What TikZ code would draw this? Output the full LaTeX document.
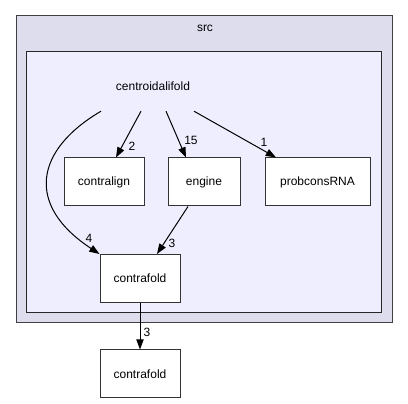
\documentclass[tikz,border=0pt]{standalone}
\usepackage{fontspec}
\setmainfont{Liberation Sans}
\usetikzlibrary{arrows.meta}
\tikzstyle{dirbox} = [draw=black!80, fill=white, line width=1pt,
    minimum height=48pt, inner sep=0pt]
\tikzstyle{num} = [inner sep=0pt]
\tikzset{>={Triangle[length=3.6mm,width=2.6mm]}}
\definecolor{outerbg}{RGB}{221,221,238}
\definecolor{innerbg}{RGB}{238,238,255}

\begin{document}
\begin{tikzpicture}[x=1pt, y=-1pt, font=\fontsize{12}{14}\selectfont]
\useasboundingbox (0,0) rectangle (408,404);
    %clusters
    \draw[fill=outerbg, draw=black!75, line width=1pt] (16,16) rectangle (392,323);
    \node (src) at (205,28) {src};
    \draw[fill=innerbg, draw=black!85, line width=1pt] (26,52) rectangle (381,313);
    \node[minimum width=100pt, minimum height=50pt, inner sep=0pt] (cent) at (153,86) {centroidalifold};
    %directories
    \node[dirbox, minimum width=80pt] (align) at (104,182) {contralign};
    \node[dirbox, minimum width=72pt] (engine) at (204,182) {engine};
    \node[dirbox, minimum width=105pt] (probcons) at (317.5,182) {probconsRNA};
    \node[dirbox, minimum width=80pt] (fold) at (140,278.5) {contrafold};
    \node[dirbox, minimum width=80pt] (extfold) at (140,374) {contrafold};
    %edges
    \draw[->, line width=1pt] ([xshift=-52pt]cent.south)
        .. controls (35,150) and (25,205) .. (fold.north west);
    \draw[->, line width=1pt] ([xshift=-12pt]cent.south) to ([xshift=12pt]align.north);
    \draw[->, line width=1pt] ([xshift=13pt]cent.south) to ([xshift=-18pt]engine.north);
    \draw[->, line width=1pt] ([xshift=41pt]cent.south) to ([xshift=-41.5pt]probcons.north);
    \draw[->, line width=1pt] ([xshift=-16pt]engine.south) to ([xshift=17pt]fold.north);
    \draw[->, line width=1pt] (fold.south) to (extfold.north);
    %numbers
    \node[num] (n4) at (89,238) {4};
    \node[num] (n2) at (132,146) {2};
    \node[num] (n15) at (191,140) {15};
    \node[num] (n1) at (264,142) {1};
    \node[num] (n3) at (172,243) {3};
    \node[num] (n3b) at (147,332) {3};
\end{tikzpicture}
\end{document}
